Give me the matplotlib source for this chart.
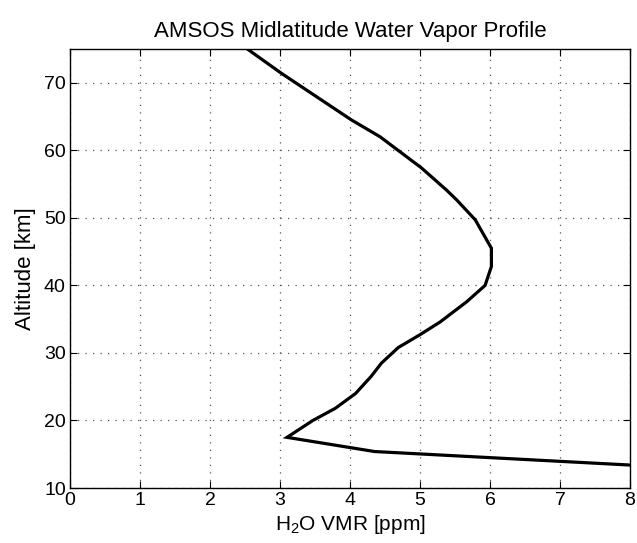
import matplotlib
matplotlib.use("Agg")
import matplotlib.pyplot as plt

plt.rcParams['font.family'] = ['Liberation Sans', 'DejaVu Sans']
plt.rcParams['mathtext.default'] = 'regular'

# Water vapor VMR [ppm] vs altitude [km]
vmr = [8.0, 4.35, 3.10, 3.47, 3.79, 4.08, 4.30, 4.45, 4.69, 5.00, 5.29, 5.67,
       5.93, 6.02, 6.02, 5.79, 5.52, 5.38, 5.02, 4.43, 4.02, 3.02, 2.52]
altitude = [13.4, 15.4, 17.5, 20.0, 21.8, 24.0, 26.5, 28.5, 30.8, 32.7, 34.6, 37.6,
            40.0, 42.8, 45.5, 49.7, 52.7, 54.1, 57.4, 62.0, 64.5, 71.4, 75.1]
xticks = [0, 1, 2, 3, 4, 5, 6, 7, 8]
yticks = [10, 20, 30, 40, 50, 60, 70]

fig = plt.figure(figsize=(6.37, 5.43), dpi=100)
ax = fig.add_axes([70/637, 1-488/543, 560/637, 439/543])
ax.plot(vmr, altitude, color='black', linewidth=2.3, solid_joinstyle='miter')
ax.set_xlim(0, 8)
ax.set_ylim(10, 75)
ax.set_xticks(xticks)
ax.set_yticks(yticks)
ax.tick_params(direction='in', top=True, right=True, labelsize=14, length=5, width=0.8, pad=3)
ax.grid(True, linestyle=(0, (1, 5)), color='#555555', linewidth=0.9)
for s in ax.spines.values():
    s.set_linewidth(1.0)
ax.set_title('AMSOS Midlatitude Water Vapor Profile', fontsize=16, pad=9)
ax.set_xlabel('H$_2$O VMR [ppm]', fontsize=15, labelpad=3)
ax.set_ylabel('Altitude [km]', fontsize=16, labelpad=6)
fig.savefig('out.png', dpi=100)
